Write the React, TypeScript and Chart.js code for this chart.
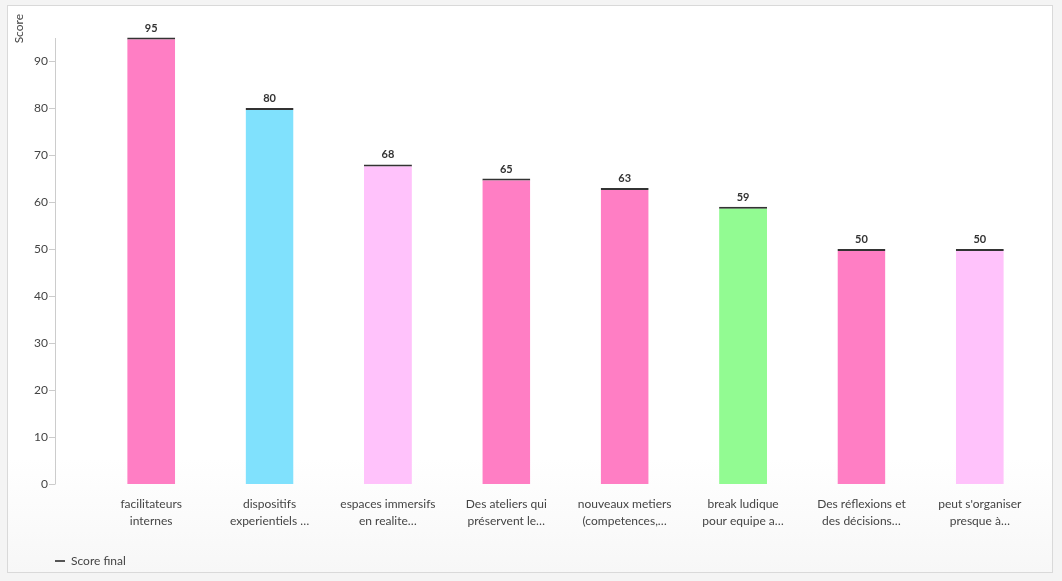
import React, { useEffect, useRef } from "react";
import { Chart, registerables } from "chart.js";

Chart.register(...registerables);

const categories: string[][] = [
  ["facilitateurs", "internes"],
  ["dispositifs", "experientiels …"],
  ["espaces immersifs", "en realite…"],
  ["Des ateliers qui", "préservent le…"],
  ["nouveaux metiers", "(competences,…"],
  ["break ludique", "pour equipe a…"],
  ["Des réflexions et", "des décisions…"],
  ["peut s'organiser", "presque à…"],
];
const scores: number[] = [95, 80, 68, 65, 63, 59, 50, 50];
const barColors: string[] = [
  "#ff7ec4",
  "#80e1fd",
  "#ffc2fb",
  "#ff7ec4",
  "#ff7ec4",
  "#92fb92",
  "#ff7ec4",
  "#ffc2fb",
];
const yTicks: number[] = [0, 10, 20, 30, 40, 50, 60, 70, 80, 90];
const seriesName = "Score final";
const yTitle = "Score";

const FONT = "Lato, 'Source Sans Pro', 'Noto Sans', sans-serif";
const AXIS_GAP = 37;
const LEGEND_PAD = 0;

export default function App() {
  const canvasRef = useRef<HTMLCanvasElement | null>(null);

  useEffect(() => {
    const canvas = canvasRef.current;
    if (!canvas) return;

    const axisPlugin = {
      id: "customAxis",
      afterLayout(chart: any) {
        if (chart.legend) {
          chart.legend.left = chart.chartArea.left - AXIS_GAP - LEGEND_PAD;
          chart.legend.top += 5;
          chart.legend.bottom += 5;
        }
      },
      afterDraw(chart: any) {
        const ctx = chart.ctx;
        const y = chart.scales.y;
        const x0 = chart.chartArea.left - AXIS_GAP;
        ctx.save();
        ctx.strokeStyle = "#cccccc";
        ctx.lineWidth = 1;
        ctx.beginPath();
        ctx.moveTo(x0 + 0.5, Math.round(y.getPixelForValue(95)));
        ctx.lineTo(x0 + 0.5, Math.round(y.getPixelForValue(0)) + 0.5);
        ctx.stroke();
        yTicks.forEach((v) => {
          const py = Math.round(y.getPixelForValue(v)) + 0.5;
          ctx.beginPath();
          ctx.moveTo(x0 - 6, py);
          ctx.lineTo(x0, py);
          ctx.stroke();
        });
        // data labels
        const meta = chart.getDatasetMeta(0);
        ctx.fillStyle = "#333333";
        ctx.font = `bold 11px ${FONT}`;
        ctx.textAlign = "center";
        ctx.textBaseline = "bottom";
        meta.data.forEach((bar: any, i: number) => {
          ctx.fillText(String(scores[i]), bar.x, bar.y - 4);
        });
        ctx.restore();
      },
    };

    const chart = new Chart(canvas, {
      type: "bar",
      data: {
        labels: categories,
        datasets: [
          {
            label: seriesName,
            data: scores,
            backgroundColor: barColors,
            borderColor: "#333333",
            borderWidth: { top: 2, left: 0, right: 0, bottom: 0 },
            borderSkipped: false,
            categoryPercentage: 1,
            barPercentage: 0.405,
          },
        ],
      },
      options: {
        animation: false,
        responsive: false,
        maintainAspectRatio: false,
        layout: { padding: { top: 8, right: 13, bottom: 0, left: 0 } },
        plugins: {
          tooltip: { enabled: false },
          legend: {
            position: "bottom",
            align: "start",
            labels: {
              padding: LEGEND_PAD,
              usePointStyle: true,
              pointStyleWidth: 10,
              boxHeight: 7,
              color: "#444444",
              font: { family: FONT, size: 12 },
              generateLabels: () => [
                {
                  text: seriesName,
                  fillStyle: "#555555",
                  strokeStyle: "#555555",
                  lineWidth: 2,
                  pointStyle: "line",
                  datasetIndex: 0,
                  fontColor: "#444444",
                },
              ],
            },
          },
        },
        scales: {
          x: {
            grid: { display: false, drawTicks: false },
            border: { display: false },
            ticks: {
              color: "#444444",
              padding: 12,
              maxRotation: 0,
              autoSkip: false,
              font: { family: FONT, size: 12, lineHeight: 1.4 },
            },
            afterFit(scale: any) {
              scale.height = 66;
            },
          },
          y: {
            min: 0,
            max: 100,
            grid: { display: false, drawTicks: false },
            border: { display: false },
            ticks: {
              stepSize: 10,
              padding: 44,
              color: "#444444",
              font: { family: FONT, size: 12 },
              callback: (v: any) => (yTicks.includes(Number(v)) ? String(v) : ""),
            },
            title: {
              display: true,
              text: yTitle,
              align: "end",
              color: "#444444",
              font: { family: FONT, size: 12 },
            },
            afterFit(scale: any) {
              scale.width = 84;
              scale.paddingTop = 0;
              scale.paddingBottom = 0;
            },
          },
        },
      },
      plugins: [axisPlugin],
    });

    return () => chart.destroy();
  }, []);

  return (
    <div
      style={{
        position: "fixed",
        left: 0,
        top: 0,
        width: 1062,
        height: 581,
        background: "#f4f4f4",
      }}
    >
      <div
        style={{
          position: "absolute",
          left: 7,
          top: 5,
          width: 1046,
          height: 568,
          boxSizing: "border-box",
          border: "1px solid #d9d9d9",
          background: "linear-gradient(to bottom, #ffffff 80%, #f7f7f7 100%)",
        }}
      >
        <canvas
          ref={canvasRef}
          width={1044}
          height={566}
          style={{ display: "block", width: 1044, height: 566 }}
        />
      </div>
    </div>
  );
}
